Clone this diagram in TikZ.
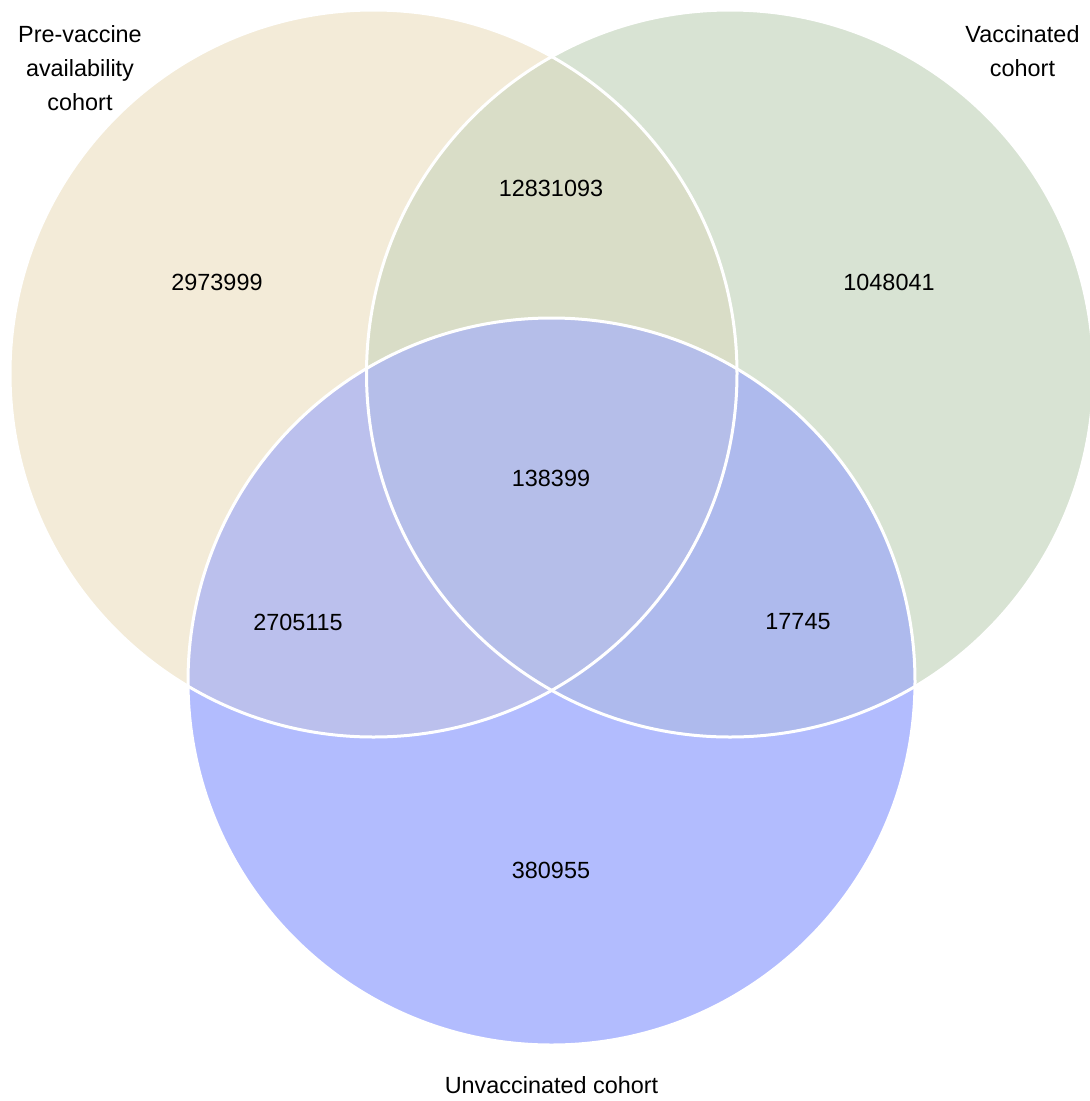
\documentclass[tikz,border=0pt]{standalone}
\usepackage{fontspec}
\setmainfont{Liberation Sans}
\definecolor{preC}{RGB}{243,235,216}
\definecolor{vacC}{RGB}{216,227,211}
\definecolor{unvC}{RGB}{178,188,254}
\definecolor{prevacC}{RGB}{217,221,199}
\definecolor{preunvC}{RGB}{187,192,237}
\definecolor{vacunvC}{RGB}{174,186,237}
\definecolor{allC}{RGB}{181,190,233}
\newcommand{\vennr}{363.5pt}
\begin{document}
\begin{tikzpicture}[x=1pt, y=-1pt, font=\fontsize{23.4}{34}\selectfont, line join=round, line cap=round]
 \useasboundingbox (0,0) rectangle (1090,1101);
 \clip (0,0) rectangle (1090,1101);
 \coordinate (pre) at (373.5,373.5);
 \coordinate (vac) at (730,373.5);
 \coordinate (unv) at (551.5,681.5);
 \fill[preC] (pre) circle[radius=\vennr];
 \fill[vacC] (vac) circle[radius=\vennr];
 \fill[unvC] (unv) circle[radius=\vennr];
 \begin{scope}
 \clip (pre) circle[radius=\vennr];
 \fill[prevacC] (vac) circle[radius=\vennr];
 \fill[preunvC] (unv) circle[radius=\vennr];
 \end{scope}
 \begin{scope}
 \clip (vac) circle[radius=\vennr];
 \fill[vacunvC] (unv) circle[radius=\vennr];
 \clip (pre) circle[radius=\vennr];
 \fill[allC] (unv) circle[radius=\vennr];
 \end{scope}
 \foreach \c in {pre,vac,unv}
 \draw[white, line width=3pt] (\c) circle[radius=\vennr];
 \node (npre) at (217,282) {2973999};
 \node (nprevac) at (551,188) {12831093};
 \node (nvac) at (889,282) {1048041};
 \node (nall) at (551,478) {138399};
 \node (npreunv) at (298,622) {2705115};
 \node (nvacunv) at (798,622) {17745};
 \node (nunv) at (551,870) {380955};
 \node[anchor=north, align=center, inner sep=0] (lblpre) at (80,25) {Pre-vaccine\\availability\\cohort};
 \node[anchor=north, align=center, inner sep=0] (lblvac) at (1022.5,25) {Vaccinated\\cohort};
 \node[anchor=base, inner sep=0] (lblunv) at (551.5,1093) {Unvaccinated cohort};
\end{tikzpicture}
\end{document}
